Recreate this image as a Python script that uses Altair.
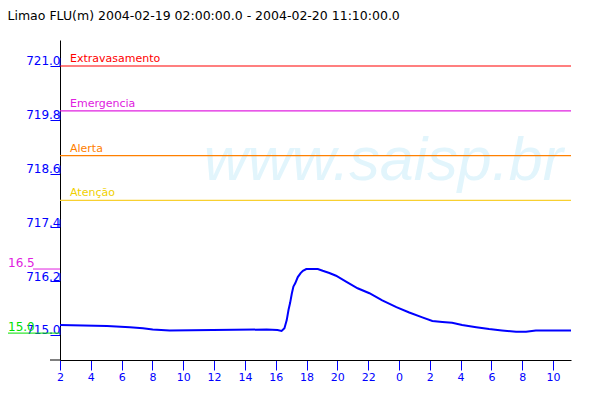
import altair as alt
import pandas as pd

title_text = "Limao FLU(m) 2004-02-19 02:00:00.0 - 2004-02-20 11:10:00.0"

# water level series (m)
times = [
    "2004-02-19 02:00", "2004-02-19 05:03", "2004-02-19 06:32", "2004-02-19 07:23",
    "2004-02-19 08:01", "2004-02-19 09:07", "2004-02-19 15:25", "2004-02-19 16:07",
    "2004-02-19 16:23", "2004-02-19 16:34", "2004-02-19 16:43", "2004-02-19 16:50",
    "2004-02-19 16:56", "2004-02-19 17:03", "2004-02-19 17:09", "2004-02-19 17:16",
    "2004-02-19 17:26", "2004-02-19 17:37", "2004-02-19 17:46", "2004-02-19 17:59",
    "2004-02-19 18:44", "2004-02-19 19:03", "2004-02-19 19:29", "2004-02-19 19:55",
    "2004-02-19 20:34", "2004-02-19 21:19", "2004-02-19 22:05", "2004-02-19 22:55",
    "2004-02-19 23:50", "2004-02-20 00:40", "2004-02-20 01:31", "2004-02-20 02:10",
    "2004-02-20 02:49", "2004-02-20 03:27", "2004-02-20 04:06", "2004-02-20 05:01",
    "2004-02-20 05:51", "2004-02-20 06:41", "2004-02-20 07:36", "2004-02-20 08:15",
    "2004-02-20 08:53", "2004-02-20 11:10",
]
levels = [
    715.22, 715.20, 715.17, 715.15,
    715.12, 715.10, 715.12, 715.11,
    715.09, 715.15, 715.33, 715.56,
    715.71, 715.93, 716.08, 716.15,
    716.29, 716.38, 716.43, 716.47,
    716.47, 716.43, 716.38, 716.32,
    716.19, 716.04, 715.93, 715.77,
    715.62, 715.50, 715.39, 715.31,
    715.29, 715.27, 715.22, 715.17,
    715.13, 715.10, 715.07, 715.07,
    715.10, 715.10,
]

# alert thresholds
thr_names = ["Extravasamento", "Emergencia", "Alerta", "Atenção"]
thr_values = [721.0, 720.0, 719.0, 718.0]
thr_colors = ["#ff0000", "#e020e0", "#ff8000", "#f8d030"]
thr_text_colors = ["#ff0000", "#e020e0", "#ff8000", "#f0d000"]

# axes
ytick_values = [715.0, 716.2, 717.4, 718.6, 719.8, 721.0]
y_domain = [714.44, 721.58]
period_start = "2004-02-19 02:00"
period_end = "2004-02-20 11:10"
xtick_hours = [0, 2, 4, 6, 8, 10, 12, 14, 16, 18, 20, 22, 24, 26, 28, 30, 32]

# side reference marks
ref_labels = ["16.5", "15.0"]
ref_levels = [716.47, 715.04]
ref_colors = ["#e020e0", "#00e000"]
ref_rule_start = [-27, -52]

watermark = "www.saisp.br"
wm_time = "2004-02-19 22:59"
wm_level = 718.46

FONT = "DejaVu Sans"

t0 = pd.Timestamp(period_start)


def hours(ts):
    return (pd.Timestamp(ts) - t0) / pd.Timedelta(hours=1)


x_scale = alt.Scale(domain=[0, hours(period_end)], nice=False, zero=False)
y_scale = alt.Scale(domain=y_domain, nice=False, zero=False)


def xenc():
    return alt.X("h:Q", scale=x_scale, title=None)


def yenc():
    return alt.Y("v:Q", scale=y_scale, title=None)


layers = []

wm_df = pd.DataFrame({"h": [hours(wm_time)], "v": [wm_level], "txt": [watermark]})
layers.append(
    alt.Chart(wm_df).mark_text(
        font="Liberation Sans", fontStyle="italic", fontSize=61,
        color="#e2f5fc", align="center", baseline="alphabetic"
    ).encode(x=xenc(), y=yenc(), text="txt:N")
)

for name, v, c, tc in zip(thr_names, thr_values, thr_colors, thr_text_colors):
    df = pd.DataFrame({"h": [0.0], "v": [v], "name": [name]})
    layers.append(alt.Chart(df).mark_rule(color=c, strokeWidth=1.2).encode(y=yenc()))
    layers.append(
        alt.Chart(df).mark_text(
            font=FONT, fontSize=11, align="left", baseline="alphabetic",
            dx=10, dy=-4, color=tc
        ).encode(x=xenc(), y=yenc(), text="name:N")
    )

for lab, v, c, x0 in zip(ref_labels, ref_levels, ref_colors, ref_rule_start):
    df = pd.DataFrame({"v": [v], "lab": [lab]})
    layers.append(
        alt.Chart(df).mark_rule(color=c, strokeWidth=1).encode(
            y=yenc(), x=alt.value(x0), x2=alt.value(0)
        )
    )
    layers.append(
        alt.Chart(df).mark_text(
            font=FONT, fontSize=12, align="left", baseline="alphabetic", dy=-2, color=c
        ).encode(y=yenc(), x=alt.value(-52), text="lab:N")
    )

# short extension of the x-axis line to the left of the y axis
base_df = pd.DataFrame({"v": [y_domain[0]]})
layers.append(
    alt.Chart(base_df).mark_rule(color="black", strokeWidth=1).encode(
        y=yenc(), x=alt.value(-10), x2=alt.value(0)
    )
)

tick_df = pd.DataFrame({"v": ytick_values, "h": [0.0] * len(ytick_values),
                        "v2": [val + 0.178 for val in ytick_values]})
layers.append(
    alt.Chart(tick_df).mark_rule(color="#0000ff", strokeWidth=1).encode(
        x=xenc(), y=yenc(), y2="v2:Q"
    )
)

series_df = pd.DataFrame({"h": [hours(t) for t in times], "v": levels})
layers.append(
    alt.Chart(series_df).mark_line(color="#0000ff", strokeWidth=2).encode(
        x=alt.X("h:Q", scale=x_scale, title=None,
                axis=alt.Axis(values=xtick_hours, tickCount=40,
                              labelExpr="(datum.value + 2) % 24",
                              labelFlush=False, labelOverlap=False)),
        y=alt.Y("v:Q", scale=y_scale, title=None,
                axis=alt.Axis(values=ytick_values, tickCount=20, format=".1f")),
    )
)

chart = alt.layer(*layers).properties(
    width=511, height=320,
    padding={"left": 52, "top": 32, "right": 21, "bottom": 32},
    autosize=alt.AutoSizeParams(type="none"),
    title=alt.Title(title_text, anchor="start", offset=18,
                    font=FONT, fontSize=12.5, fontWeight="normal", color="black"),
).configure_view(strokeWidth=0).configure_axis(
    grid=False, domainColor="black", domainWidth=1,
    tickColor="#0000ff", tickSize=10, tickWidth=1,
    labelColor="#0000ff", labelFont=FONT,
).configure_axisX(
    labelFontSize=11, labelPadding=1
).configure_axisY(
    labelFontSize=12, labelAlign="right", labelBaseline="bottom", labelOffset=2,
    labelPadding=-10
)

chart.save("out.html", embed_options={"renderer": "svg", "actions": False})
